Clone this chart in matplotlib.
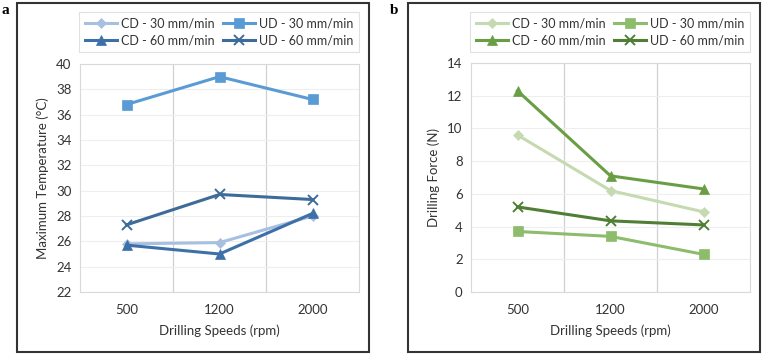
import matplotlib
matplotlib.use("Agg")
import matplotlib.pyplot as plt
from matplotlib.patches import Rectangle

plt.rcParams['font.family'] = ['Lato', 'DejaVu Sans']

speeds = ["500", "1200", "2000"]
labels = ["CD - 30 mm/min", "UD - 30 mm/min", "CD - 60 mm/min", "UD - 60 mm/min"]

# panel a: maximum temperature (deg C)
temp_cd30 = [25.8, 25.9, 28.0]
temp_ud30 = [36.8, 39.0, 37.2]
temp_cd60 = [25.7, 25.0, 28.2]
temp_ud60 = [27.3, 29.7, 29.3]

# panel b: drilling force (N)
force_cd30 = [9.6, 6.2, 4.9]
force_ud30 = [3.7, 3.4, 2.3]
force_cd60 = [12.3, 7.1, 6.3]
force_ud60 = [5.2, 4.35, 4.1]

markers = ["D", "s", "^", "x"]
msizes = [5, 6.5, 7, 7]
blues = ["#a8c0e0", "#5b9bd5", "#3d70a8", "#3d6b9a"]
greens = ["#c5dab0", "#8cbc6c", "#6a9e44", "#4f7f34"]

fig = plt.figure(figsize=(7.62, 3.55), dpi=100)
W, H = 762, 355


def fig_rect(x0, y0, x1, y1):
    # pixel box (top-left origin) -> figure fraction rect
    return [x0 / W, (H - y1) / H, (x1 - x0) / W, (y1 - y0) / H]


def panel(rect, legend_box, series, colors, ylim, yticks, ylabel):
    ax = fig.add_axes(fig_rect(*rect))
    x = range(len(speeds))
    handles = []
    for vals, c, m, ms, lab in zip(series, colors, markers, msizes, labels):
        h, = ax.plot(x, vals, color=c, lw=2.2, marker=m, ms=ms,
                     markeredgewidth=1.4 if m == "x" else 0.5,
                     markeredgecolor=c, label=lab, zorder=3)
        handles.append(h)
    ax.set_xlim(-0.5, 2.5)
    ax.set_ylim(*ylim)
    ax.set_yticks(yticks)
    ax.set_xticks(list(x))
    ax.set_xticklabels(speeds)
    ax.set_xticks([0.5, 1.5], minor=True)
    ax.grid(axis="y", color="#eeeeee", lw=0.8)
    ax.grid(axis="x", which="minor", color="#d0d0d0", lw=0.9)
    ax.tick_params(which="both", length=0, labelsize=9.5, colors="#333333", pad=6)
    ax.tick_params(axis="x", pad=9)
    for s in ax.spines.values():
        s.set_color("#d9d9d9")
        s.set_linewidth(0.8)
    ax.set_axisbelow(True)
    ax.set_xlabel("Drilling Speeds (rpm)", fontsize=9.5, color="#333333", labelpad=6)
    ax.set_ylabel(ylabel, fontsize=9.5, color="#333333", labelpad=5)
    # legend fills column-wise, so order handles to read CD30 UD30 / CD60 UD60 by row
    order = [0, 2, 1, 3]
    lb = fig_rect(*legend_box)
    leg = fig.legend(handles=[handles[i] for i in order], loc="center", ncol=2,
                     bbox_to_anchor=(lb[0], lb[1], lb[2], lb[3]), mode="expand",
                     fontsize=9, frameon=True, fancybox=False,
                     handlelength=2.6, columnspacing=0.8, handletextpad=0.3,
                     borderaxespad=0, borderpad=0.45, labelspacing=0.45)
    leg.get_frame().set_edgecolor("#d9d9d9")
    leg.get_frame().set_linewidth(0.8)
    for t in leg.get_texts():
        t.set_color("#333333")
    return ax


panel((80, 64, 359, 292), (79, 10, 359, 54),
      [temp_cd30, temp_ud30, temp_cd60, temp_ud60], blues,
      (22, 40), range(22, 41, 2), "Maximum Temperature (\u00b0C)")
panel((471, 63, 750, 292), (470, 10, 750, 54),
      [force_cd30, force_ud30, force_cd60, force_ud60], greens,
      (0, 14), range(0, 15, 2), "Drilling Force (N)")

# outer frames round each panel
for x0 in (17, 408):
    r = fig_rect(x0, 3, x0 + 352, 352)
    fig.patches.append(Rectangle((r[0], r[1]), r[2], r[3], transform=fig.transFigure,
                                 fill=False, edgecolor="#333333", lw=1.5))

fig.text(2 / W, 1 - 10 / H, "a", fontsize=11, fontweight="bold",
         family="Liberation Serif", va="center", ha="left")
fig.text(390 / W, 1 - 10 / H, "b", fontsize=11, fontweight="bold",
         family="Liberation Serif", va="center", ha="left")

fig.savefig("out.png", dpi=100)
